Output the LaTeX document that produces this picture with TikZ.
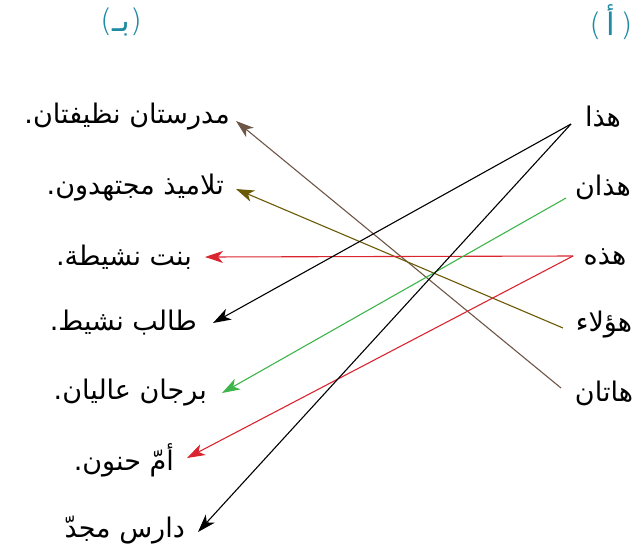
\documentclass[tikz,border=0pt]{standalone}
\usepackage{fontspec}
\setsansfont{DejaVu Sans}
\newfontfamily\arabicfont[Script=Arabic]{DejaVu Sans}
\newfontfamily\parfont{DejaVu Sans ExtraLight}
\TeXXeTstate=1
\usetikzlibrary{arrows.meta}
\definecolor{hdr}{HTML}{1F8BA3}
\definecolor{cbrown}{HTML}{6E5646}
\definecolor{colive}{HTML}{6B5A05}
\definecolor{cred}{HTML}{DA2530}
\definecolor{cgreen}{HTML}{3DB54A}
\tikzset{
  ar/.style={font=\arabicfont\fontsize{27}{32}\selectfont, inner sep=0pt},
  hd/.style={font=\arabicfont\fontsize{31}{36}\selectfont, text=hdr, inner sep=0pt},
  lnk/.style={line width=1.1pt, -{Stealth[length=18pt,width=12pt,inset=5pt]}},
}
\begin{document}
\begin{tikzpicture}[x=1pt,y=-1pt]
\useasboundingbox (0,0) rectangle (643,550);
% headers
\node[hd] (hb) at (121,22) {{\parfont(}\beginR بـ\endR{\parfont)}};
\node[hd] (ha) at (611,22) {{\parfont(}\,\beginR أ\endR\,{\parfont)}};
% right column
\node[ar] (r1) at (603,117) {\beginR هذا\endR};
\node[ar] (r2) at (603,187) {\beginR هذان\endR};
\node[ar] (r3) at (605,257) {\beginR هذه\endR};
\node[ar] (r4) at (604,325) {\beginR هؤلاء\endR};
\node[ar] (r5) at (604,393) {\beginR هاتان\endR};
% left column
\node[ar, anchor=east] (l1) at (230,117) {\beginR مدرستان نظيفتان.\endR};
\node[ar, anchor=east] (l2) at (224,188) {\beginR تلاميذ مجتهدون.\endR};
\node[ar, anchor=east] (l3) at (192,257) {\beginR بنت نشيطة.\endR};
\node[ar, anchor=east] (l4) at (197,323) {\beginR طالب نشيط.\endR};
\node[ar, anchor=east] (l5) at (207,393) {\beginR برجان عاليان.\endR};
\node[ar, anchor=east] (l6) at (174,460) {\beginR أمّ حنون.\endR};
\node[ar, anchor=east] (l7) at (185,530) {\beginR دارس مجدّ\endR};
% connector ends
\coordinate (s1) at (571,124);
\coordinate (s2) at (566,198);
\coordinate (s3) at (573,256);
\coordinate (s4) at (563,328);
\coordinate (s5) at (561,388);
\coordinate (e1) at (236,121);
\coordinate (e2) at (236,189);
\coordinate (e3) at (205,257);
\coordinate (e4) at (213,323);
\coordinate (e5) at (222,393);
\coordinate (e6) at (187,458);
\coordinate (e7) at (198,532);
% connectors
\draw[lnk, cbrown] (s5) -- (e1);
\draw[lnk, colive] (s4) -- (e2);
\draw[lnk, cred] (s3) -- (e3);
\draw[lnk, cred] (s3) -- (e6);
\draw[lnk, cgreen] (s2) -- (e5);
\draw[lnk, black] (s1) -- (e4);
\draw[lnk, black] (s1) -- (e7);
\end{tikzpicture}
\end{document}
